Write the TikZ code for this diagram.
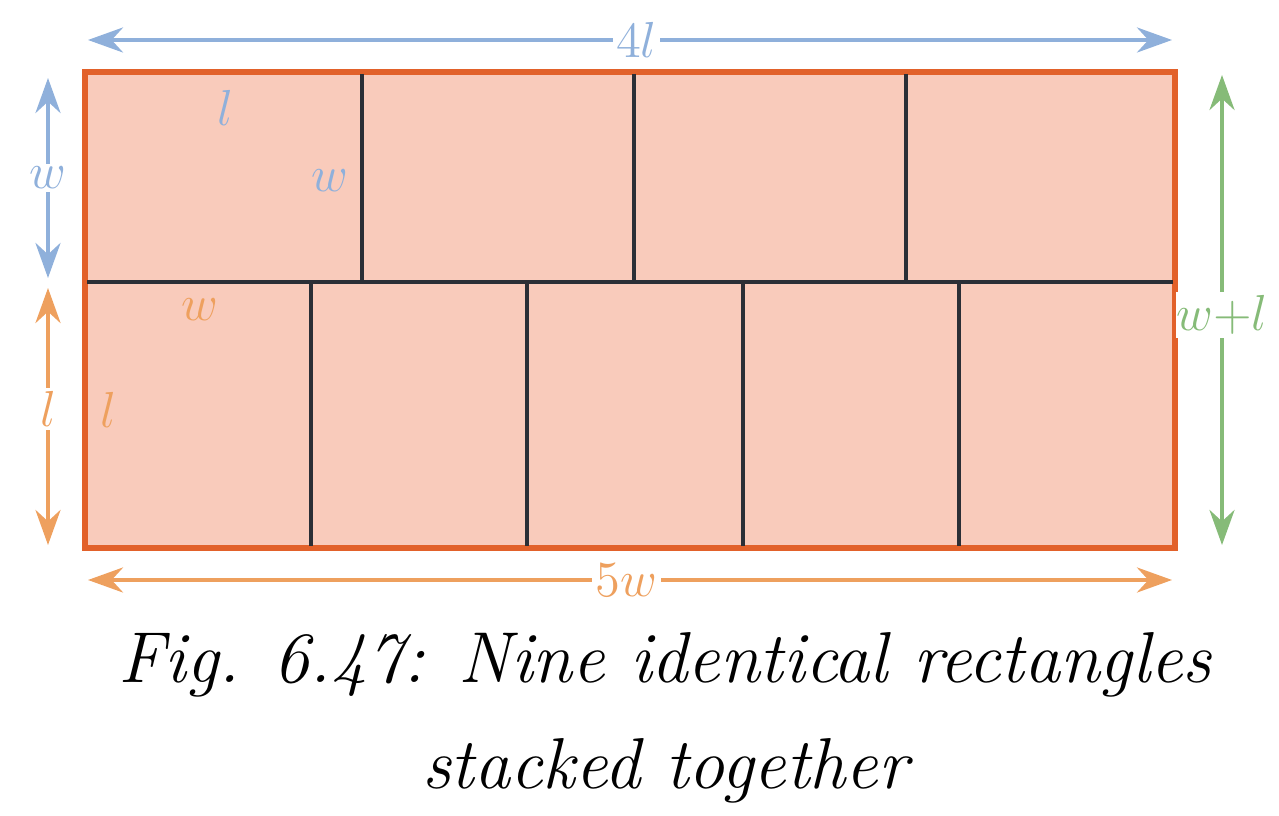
\documentclass[tikz,border=0pt]{standalone}
\usepackage{tikz}
\usetikzlibrary{arrows.meta}
\definecolor{brickfill}{HTML}{F9CBBB}
\definecolor{brickedge}{HTML}{E2612A}
\definecolor{dimblue}{HTML}{8FB0DB}
\definecolor{dimorange}{HTML}{EEA05E}
\definecolor{dimgreen}{HTML}{86BB78}
\definecolor{seam}{HTML}{2B2F36}
\tikzset{
	dim arrow/.style={
		<->,
		line width=1.2pt,
		>={Stealth[length=3.5mm,width=2.5mm]}
	},
	dim label/.style={
		fill=white,
		inner sep=1pt,
		font=\fontsize{14}{16}\selectfont
	},
	side label/.style={
		font=\fontsize{14}{16}\selectfont
	},
}

\begin{document}
\begin{tikzpicture}[x=0.01cm, y=-0.01cm]
\useasboundingbox (0,0) rectangle (1279,816);

% the nine rectangles
\draw [fill=brickfill, draw=brickedge, line width=1.8pt] (85,72) rectangle (1175,548);
\draw [seam, line width=1.3pt] (87,282) -- (1173,282);
\foreach \x in {362,634,906}
	\draw [seam, line width=1.3pt] (\x,74) -- (\x,282);
\foreach \x in {311,527,743,959}
	\draw [seam, line width=1.3pt] (\x,282) -- (\x,546);

% dimension arrows
\coordinate (top-a) at (88,40);
\coordinate (top-b) at (1172,40);
\draw [dim arrow, dimblue] (top-a) -- (top-b)
	node [dim label, text=dimblue, pos=0.506] {$4l$};

\coordinate (w-a) at (48,78);
\coordinate (w-b) at (48,278);
\draw [dim arrow, dimblue] (w-a) -- (w-b)
	node [dim label, text=dimblue, midway] {$w$};

\coordinate (l-a) at (48,288);
\coordinate (l-b) at (48,545);
\draw [dim arrow, dimorange] (l-a) -- (l-b)
	node [dim label, text=dimorange, pos=0.47] {$l$};

\coordinate (wl-a) at (1222,75);
\coordinate (wl-b) at (1222,545);
\draw [dim arrow, dimgreen] (wl-a) -- (wl-b)
	node [dim label, text=dimgreen, inner xsep=0pt, pos=0.51] {$w{+}l$};

\coordinate (bot-a) at (88,580);
\coordinate (bot-b) at (1172,580);
\draw [dim arrow, dimorange] (bot-a) -- (bot-b)
	node [dim label, text=dimorange, pos=0.497] {$5w$};

% side labels
\node [side label, text=dimblue] (top-l) at (225,108) {$l$};
\node [side label, text=dimblue] (top-w) at (330,181) {$w$};
\node [side label, text=dimorange] (bot-w) at (200,310) {$w$};
\node [side label, text=dimorange] (bot-l) at (108,410) {$l$};

% caption
\node [align=center, font=\fontsize{20.5}{30}\selectfont\itshape] (caption) at (665,718)
	{Fig. 6.47: Nine identical rectangles\\stacked together};

\end{tikzpicture}
\end{document}
